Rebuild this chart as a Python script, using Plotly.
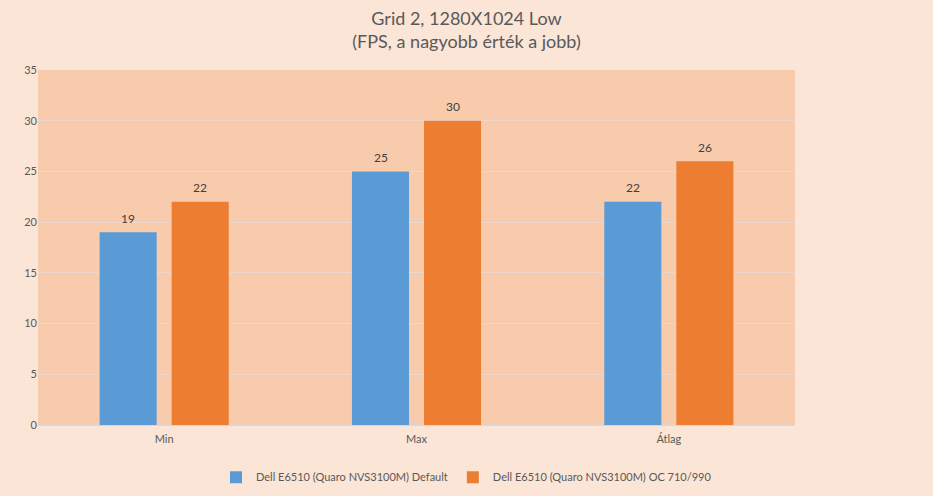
import plotly.graph_objects as go

categories = ["Min", "Max", "Átlag"]
series_names = ["Dell E6510 (Quaro NVS3100M) Default", "Dell E6510 (Quaro NVS3100M) OC 710/990"]
default_values = [19, 25, 22]
oc_values = [22, 30, 26]
colors = ["#5B9BD5", "#ED7D31"]
label_shifts = [-36, 36]

FONT = "Lato, Open Sans, sans-serif"

fig = go.Figure()
for name, vals, col in zip(series_names, [default_values, oc_values], colors):
    fig.add_trace(go.Bar(
        x=categories, y=vals, name=name, marker=dict(color=col, line=dict(width=0)),
    ))

annotations = []
for vals, sh in zip([default_values, oc_values], label_shifts):
    for c, v in zip(categories, vals):
        annotations.append(dict(x=c, y=v, xref="x", yref="y", text=str(v), showarrow=False,
                                xshift=sh, yshift=14, font=dict(family=FONT, size=12, color="#404040")))

fig.update_layout(
    width=933, height=496,
    paper_bgcolor="#FBE5D6", plot_bgcolor="#F8CBAD",
    margin=dict(l=38, r=138, t=70, b=71, autoexpand=False),
    title=dict(text="Grid 2, 1280X1024 Low<br>(FPS, a nagyobb érték a jobb)",
               x=0.5, xanchor="center", y=0.95, yanchor="top",
               font=dict(family=FONT, size=18, color="#595959")),
    barmode="group", bargap=0.429, bargroupgap=0.208,
    showlegend=True,
    legend=dict(orientation="h", x=0.5, xanchor="center", xref="container",
                y=0.038, yanchor="middle", yref="container",
                font=dict(family=FONT, size=11, color="#595959"),
                bgcolor="rgba(0,0,0,0)"),
    annotations=annotations,
    font=dict(family=FONT, color="#595959"),
)
fig.update_yaxes(range=[0, 35], dtick=5, showgrid=True, gridcolor="#EDD6CB", gridwidth=1,
                 zeroline=True, zerolinecolor="#E6D2C8", tickfont=dict(family=FONT, size=11, color="#595959"),
                 ticks="", showline=False)
fig.update_xaxes(showgrid=False, ticks="", showline=True, linecolor="#E6D2C8", ticklabelstandoff=4,
                 tickfont=dict(family=FONT, size=11, color="#595959"))

fig.write_html("out.html", config={"displayModeBar": False})
with open("out.html", encoding="utf-8") as f:
    html = f.read()
html = html.replace("<head>", "<head><style>body{margin:0;padding:0;}</style>", 1)
with open("out.html", "w", encoding="utf-8") as f:
    f.write(html)
